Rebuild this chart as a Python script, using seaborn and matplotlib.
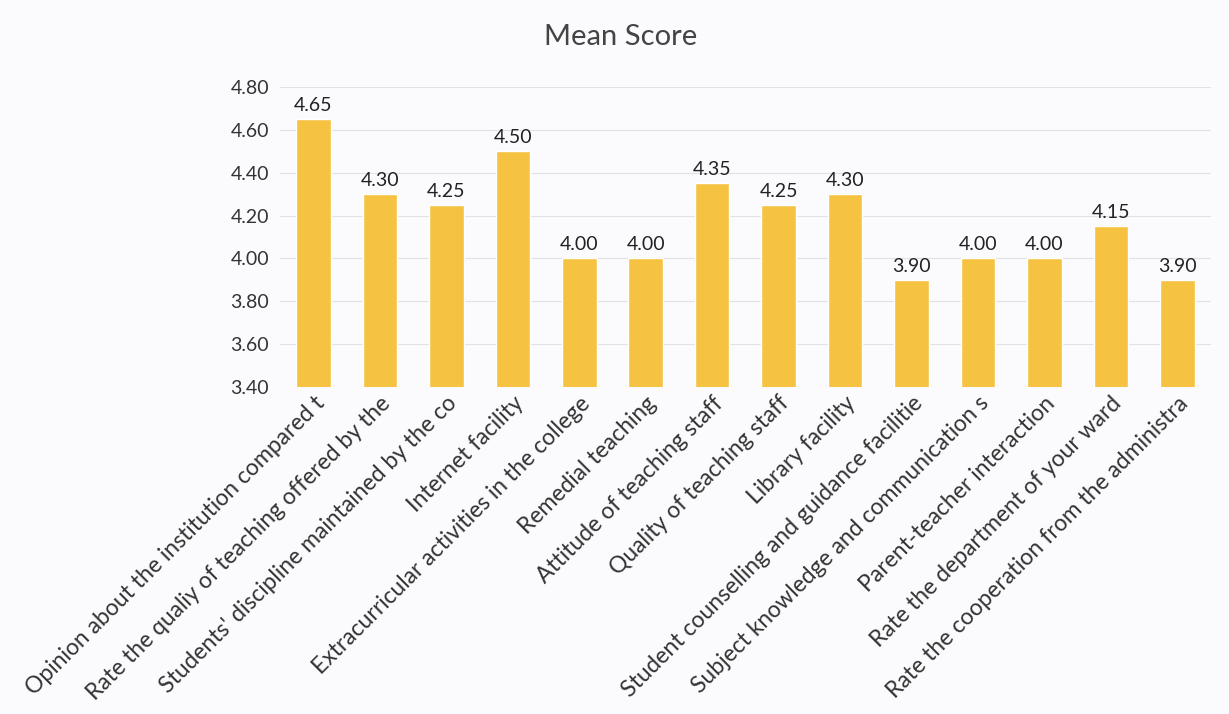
import numpy as np
import pandas as pd
import matplotlib.pyplot as plt
import seaborn as sns

categories = [
    "Opinion about the institution compared t",
    "Rate the qualiy of teaching offered by the",
    "Students' discipline maintained by the co",
    "Internet facility",
    "Extracurricular activities in the college",
    "Remedial teaching",
    "Attitude of teaching staff",
    "Quality of teaching staff",
    "Library facility",
    "Student counselling and guidance facilitie",
    "Subject knowledge and communication s",
    "Parent-teacher interaction",
    "Rate the department of your ward",
    "Rate the cooperation from the administra",
]
mean_scores = [4.65, 4.30, 4.25, 4.50, 4.00, 4.00, 4.35, 4.25, 4.30, 3.90, 4.00, 4.00, 4.15, 3.90]
y_ticks = [3.40, 3.60, 3.80, 4.00, 4.20, 4.40, 4.60, 4.80]

df = pd.DataFrame({"item": categories, "score": mean_scores})

sns.set_theme(style="white")
plt.rcParams["font.family"] = ["Lato", "DejaVu Sans"]

fig = plt.figure(figsize=(12.29, 7.14), dpi=100)
fig.patch.set_facecolor("#fbfbfd")
ax = fig.add_axes([0.228, 0.458, 0.757, 0.42])
ax.set_facecolor("#fbfbfd")

sns.barplot(data=df, x="item", y="score", color="#f5c242", saturation=1,
            width=0.52, ax=ax, zorder=2)

ax.set_ylim(3.4, 4.8)
ax.set_yticks(y_ticks)
ax.set_yticklabels([f"{v:.2f}" for v in y_ticks], fontsize=14, color="#333333")
ax.grid(axis="y", color="#e2e2e6", linewidth=0.8, zorder=0)
ax.set_xlabel("")
ax.set_ylabel("")
ax.tick_params(axis="y", length=0, pad=8)
ax.tick_params(axis="x", length=0, pad=4)
ax.set_xticks(range(len(categories)))
ax.set_xticklabels(categories, rotation=45, ha="right", rotation_mode="anchor",
                   fontsize=16.5, color="#333333")
for s in ax.spines.values():
    s.set_visible(False)

for i, v in enumerate(mean_scores):
    ax.text(i, v + 0.025, f"{v:.2f}", ha="center", va="bottom", fontsize=14, color="#222222")

fig.text(0.505, 0.948, "Mean Score", ha="center", va="center", fontsize=21, color="#444444")

fig.savefig("out.png", dpi=100, facecolor=fig.get_facecolor())
